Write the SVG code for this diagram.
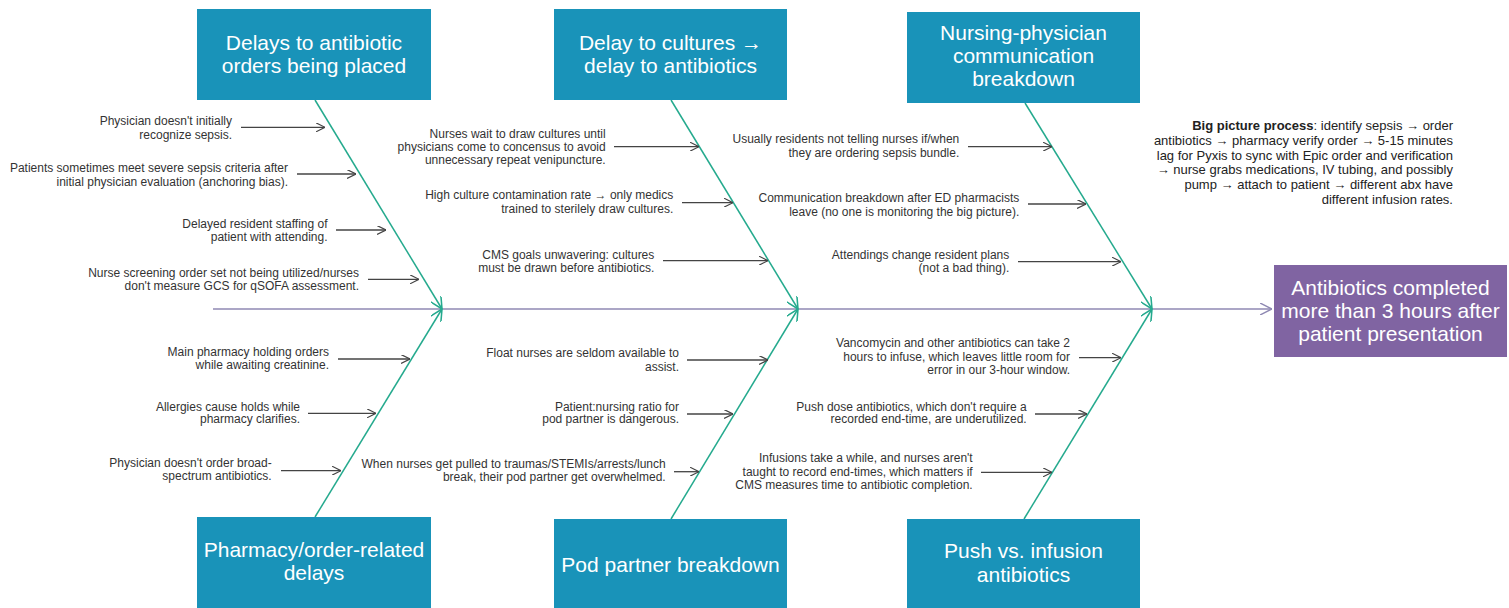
<svg xmlns="http://www.w3.org/2000/svg" width="1509" height="608" viewBox="0 0 1509 608">
<defs>
<marker id="ah" viewBox="0 0 10 10" refX="10" refY="5" markerWidth="9" markerHeight="9" markerUnits="userSpaceOnUse" orient="auto">
<path d="M0,0 L10,5 L0,10" fill="none" stroke="#444" stroke-width="1.3"/>
</marker>
<marker id="bh" viewBox="0 0 10 10" refX="10" refY="5" markerWidth="12" markerHeight="12" markerUnits="userSpaceOnUse" orient="auto">
<path d="M0,0 L10,5 L0,10" fill="none" stroke="#25AA8E" stroke-width="1.3"/>
</marker>
<marker id="sh" viewBox="0 0 10 10" refX="10" refY="5" markerWidth="12" markerHeight="12" markerUnits="userSpaceOnUse" orient="auto">
<path d="M0,0 L10,5 L0,10" fill="none" stroke="#8F89B3" stroke-width="1.2"/>
</marker>
</defs>
<style>
.box{fill:#1993B9}
.res{fill:#8064A2}
.bt{font-family:"Liberation Sans",Arial,sans-serif;font-size:21px;fill:#fff;text-anchor:middle}
.ct{font-family:"Liberation Sans",Arial,sans-serif;font-size:12px;fill:#333;text-anchor:end}
.bp{font-family:"Liberation Sans",Arial,sans-serif;font-size:13px;fill:#222;text-anchor:end}
.ar{stroke:#444;stroke-width:1.3;fill:none;marker-end:url(#ah)}
.bone{stroke:#25AA8E;stroke-width:1.5;fill:none;marker-end:url(#bh)}
.spine{stroke:#8F89B3;stroke-width:1.5;fill:none;marker-end:url(#sh)}
</style>
<rect width="1509" height="608" fill="#fff"/>

<g id="connectors">
<line class="spine" x1="213" y1="309" x2="1272" y2="309"/>
<line class="bone" x1="315" y1="100" x2="442" y2="309"/>
<line class="bone" x1="671" y1="100" x2="798" y2="309"/>
<line class="bone" x1="1025" y1="103" x2="1152" y2="309"/>
<line class="bone" x1="315" y1="517" x2="442" y2="309"/>
<line class="bone" x1="671" y1="519" x2="798" y2="309"/>
<line class="bone" x1="1024" y1="519" x2="1152" y2="309"/>
<line class="ar" x1="241" y1="127.3" x2="325" y2="127.3"/>
<line class="ar" x1="297" y1="174" x2="356" y2="174"/>
<line class="ar" x1="336" y1="230" x2="386" y2="230"/>
<line class="ar" x1="368" y1="279.3" x2="419" y2="279.3"/>
<line class="ar" x1="614" y1="146.7" x2="699" y2="146.7"/>
<line class="ar" x1="682" y1="202.7" x2="733" y2="202.7"/>
<line class="ar" x1="663" y1="260.7" x2="768" y2="260.7"/>
<line class="ar" x1="968" y1="146.7" x2="1052" y2="146.7"/>
<line class="ar" x1="1028" y1="204" x2="1086" y2="204"/>
<line class="ar" x1="1018" y1="261.7" x2="1121" y2="261.7"/>
<line class="ar" x1="338" y1="359" x2="410" y2="359"/>
<line class="ar" x1="308" y1="413.3" x2="376" y2="413.3"/>
<line class="ar" x1="281" y1="470.7" x2="341" y2="470.7"/>
<line class="ar" x1="687" y1="360" x2="768" y2="360"/>
<line class="ar" x1="687" y1="414" x2="733" y2="414"/>
<line class="ar" x1="674" y1="471.7" x2="699" y2="471.7"/>
<line class="ar" x1="1079" y1="357.7" x2="1121" y2="357.7"/>
<line class="ar" x1="1035" y1="414" x2="1087" y2="414"/>
<line class="ar" x1="981" y1="472.3" x2="1052" y2="472.3"/>
</g>

<g id="cat-orders">
<rect class="box" x="197" y="9" width="234" height="91"/>
<text class="bt" x="314" y="50">Delays to antibiotic</text>
<text class="bt" x="314" y="73">orders being placed</text>
</g>
<g id="cat-cultures">
<rect class="box" x="554" y="9" width="233" height="91"/>
<text class="bt" x="670.5" y="50">Delay to cultures →</text>
<text class="bt" x="670.5" y="73">delay to antibiotics</text>
</g>
<g id="cat-communication">
<rect class="box" x="907" y="12" width="233" height="91"/>
<text class="bt" x="1023.5" y="40">Nursing-physician</text>
<text class="bt" x="1023.5" y="63">communication</text>
<text class="bt" x="1023.5" y="86">breakdown</text>
</g>
<g id="cat-pharmacy">
<rect class="box" x="197" y="517" width="234" height="91"/>
<text class="bt" x="314" y="557">Pharmacy/order-related</text>
<text class="bt" x="314" y="580">delays</text>
</g>
<g id="cat-pod">
<rect class="box" x="554" y="519" width="233" height="89"/>
<text class="bt" x="670.5" y="572">Pod partner breakdown</text>
</g>
<g id="cat-push">
<rect class="box" x="907" y="519" width="233" height="89"/>
<text class="bt" x="1023.5" y="558">Push vs. infusion</text>
<text class="bt" x="1023.5" y="582">antibiotics</text>
</g>
<g id="effect">
<rect class="res" x="1274" y="265" width="233" height="92"/>
<text class="bt" x="1390.5" y="295">Antibiotics completed</text>
<text class="bt" x="1390.5" y="318">more than 3 hours after</text>
<text class="bt" x="1390.5" y="341">patient presentation</text>
</g>

<g id="causes-orders">
<text class="ct" x="232" y="125">Physician doesn't initially</text>
<text class="ct" x="232" y="138.5">recognize sepsis.</text>
<text class="ct" x="288" y="171.7">Patients sometimes meet severe sepsis criteria after</text>
<text class="ct" x="288" y="185.5">initial physician evaluation (anchoring bias).</text>
<text class="ct" x="327.5" y="227.7">Delayed resident staffing of</text>
<text class="ct" x="327.5" y="241">patient with attending.</text>
<text class="ct" x="359" y="276.7">Nurse screening order set not being utilized/nurses</text>
<text class="ct" x="359" y="290">don't measure GCS for qSOFA assessment.</text>
</g>
<g id="causes-cultures">
<text class="ct" x="605.7" y="137.7">Nurses wait to draw cultures until</text>
<text class="ct" x="605.7" y="151">physicians come to concensus to avoid</text>
<text class="ct" x="605.7" y="164.3">unnecessary repeat venipuncture.</text>
<text class="ct" x="673.3" y="199.3">High culture contamination rate → only medics</text>
<text class="ct" x="673.3" y="213.3">trained to sterilely draw cultures.</text>
<text class="ct" x="654.3" y="259">CMS goals unwavering: cultures</text>
<text class="ct" x="654.3" y="272.3">must be drawn before antibiotics.</text>
</g>
<g id="causes-communication">
<text class="ct" x="959.3" y="143.3">Usually residents not telling nurses if/when</text>
<text class="ct" x="959.3" y="156.7">they are ordering sepsis bundle.</text>
<text class="ct" x="1019.3" y="202">Communication breakdown after ED pharmacists</text>
<text class="ct" x="1019.3" y="216">leave (no one is monitoring the big picture).</text>
<text class="ct" x="1009.3" y="259">Attendings change resident plans</text>
<text class="ct" x="1009.3" y="272.3">(not a bad thing).</text>
</g>
<g id="causes-pharmacy">
<text class="ct" x="329" y="356">Main pharmacy holding orders</text>
<text class="ct" x="329" y="369">while awaiting creatinine.</text>
<text class="ct" x="300" y="410.7">Allergies cause holds while</text>
<text class="ct" x="300" y="423.3">pharmacy clarifies.</text>
<text class="ct" x="271.7" y="467.3">Physician doesn't order broad-</text>
<text class="ct" x="271.7" y="480">spectrum antibiotics.</text>
</g>
<g id="causes-pod">
<text class="ct" x="679" y="356.7">Float nurses are seldom available to</text>
<text class="ct" x="679" y="370.7">assist.</text>
<text class="ct" x="679" y="410.7">Patient:nursing ratio for</text>
<text class="ct" x="679" y="423.3">pod partner is dangerous.</text>
<text class="ct" x="665.7" y="467.7">When nurses get pulled to traumas/STEMIs/arrests/lunch</text>
<text class="ct" x="665.7" y="481">break, their pod partner get overwhelmed.</text>
</g>
<g id="causes-push">
<text class="ct" x="1070" y="347.3">Vancomycin and other antibiotics can take 2</text>
<text class="ct" x="1070" y="361">hours to infuse, which leaves little room for</text>
<text class="ct" x="1070" y="374.3">error in our 3-hour window.</text>
<text class="ct" x="1026.7" y="410.7">Push dose antibiotics, which don't require a</text>
<text class="ct" x="1026.7" y="423.3">recorded end-time, are underutilized.</text>
<text class="ct" x="972.7" y="462.3">Infusions take a while, and nurses aren't</text>
<text class="ct" x="972.7" y="476">taught to record end-times, which matters if</text>
<text class="ct" x="972.7" y="489.3">CMS measures time to antibiotic completion.</text>
</g>
<g id="big-picture">
<text class="bp" x="1453" y="130"><tspan font-weight="bold">Big picture process</tspan>: identify sepsis → order</text>
<text class="bp" x="1453" y="144.8">antibiotics → pharmacy verify order → 5-15 minutes</text>
<text class="bp" x="1453" y="159.6">lag for Pyxis to sync with Epic order and verification</text>
<text class="bp" x="1453" y="174.4">→ nurse grabs medications, IV tubing, and possibly</text>
<text class="bp" x="1453" y="189.2">pump → attach to patient → different abx have</text>
<text class="bp" x="1453" y="204">different infusion rates.</text>
</g>
</svg>
